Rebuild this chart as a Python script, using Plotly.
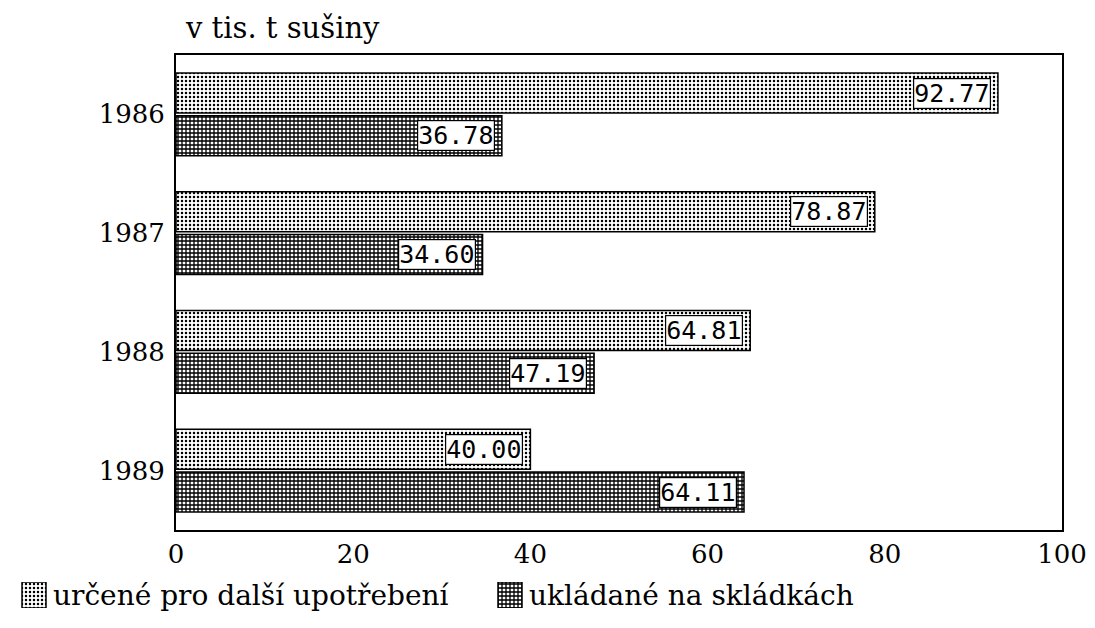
import plotly.graph_objects as go

# Údaje: kaly (v tis. t sušiny)
years = ["1986", "1987", "1988", "1989"]
reused = [92.77, 78.87, 64.81, 40.00]       # určené pro další upotřebení
landfilled = [36.78, 34.60, 47.19, 64.11]   # ukládané na skládkách
series_names = ["určené pro další upotřebení", "ukládané na skládkách"]
x_ticks = [0, 20, 40, 60, 80, 100]

W, H = 1095, 628
SERIF = "DejaVu Serif"
MONO = "DejaVu Sans Mono"

LIGHT = dict(shape=".", fgcolor="black", bgcolor="white",
             size=4, solidity=0.3, fillmode="replace")
DARK = dict(shape="+", fgcolor="black", bgcolor="white",
            size=4, solidity=0.55, fillmode="replace")
OUTLINE = dict(color="black", width=1.5)

# plot box in pixels
left, right, top, bottom = 176, 1062, 55, 530


def px_x(v):
    return v / W


def px_y(v):
    return 1 - v / H


fig = go.Figure()

fig.add_trace(go.Bar(
    y=years, x=reused, name=series_names[0], orientation="h",
    marker=dict(color="white", line=OUTLINE, pattern=LIGHT),
    xaxis="x", yaxis="y", showlegend=False,
))
fig.add_trace(go.Bar(
    y=years, x=landfilled, name=series_names[1], orientation="h",
    marker=dict(color="white", line=OUTLINE, pattern=DARK),
    xaxis="x", yaxis="y", showlegend=False,
))

# legend keys drawn as small patterned bars on a pixel-scaled helper axis
key_x = [34, 510]
fig.add_trace(go.Bar(
    x=[key_x[0]], y=[1], width=[24], xaxis="x2", yaxis="y2",
    marker=dict(color="white", line=OUTLINE, pattern=LIGHT),
    showlegend=False, hoverinfo="skip",
))
fig.add_trace(go.Bar(
    x=[key_x[1]], y=[1], width=[24], xaxis="x2", yaxis="y2",
    marker=dict(color="white", line=OUTLINE, pattern=DARK),
    showlegend=False, hoverinfo="skip",
))

annotations = []
# boxed value labels at the end of each bar
for i, yr in enumerate(years):
    for j, vals in enumerate([reused, landfilled]):
        off = -0.18 if j == 0 else 0.18
        annotations.append(dict(
            x=vals[i], y=i + off, xref="x", yref="y",
            text=f"{vals[i]:.2f}", showarrow=False,
            xanchor="right", xshift=-7,
            font=dict(family=MONO, size=25, color="black"),
            bgcolor="white", bordercolor="black", borderwidth=1.2, borderpad=0,
        ))

# unit label above the plot
annotations.append(dict(
    x=px_x(183), y=px_y(28), xref="paper", yref="paper",
    text="v tis. t sušiny", showarrow=False,
    xanchor="left", yanchor="middle",
    font=dict(family=SERIF, size=29, color="black"),
))

# legend texts
for kx, label in zip(key_x, series_names):
    annotations.append(dict(
        x=px_x(kx + 17), y=px_y(595), xref="paper", yref="paper",
        text=label, showarrow=False, xanchor="left", yanchor="middle",
        font=dict(family=SERIF, size=28, color="black"),
    ))

fig.update_layout(
    width=W, height=H,
    margin=dict(l=0, r=0, t=0, b=0, pad=0, autoexpand=False),
    paper_bgcolor="white", plot_bgcolor="white",
    barmode="group", bargap=0.28, bargroupgap=0.06,
    showlegend=False,
    xaxis=dict(
        domain=[px_x(left), px_x(right)],
        range=[0, 100], tickvals=x_ticks, ticktext=[str(t) for t in x_ticks],
        showgrid=False, zeroline=False, ticks="",
        showline=True, linecolor="black", linewidth=2, mirror=True,
        tickfont=dict(family=SERIF, size=26, color="black"),
        anchor="y", automargin=False,
    ),
    yaxis=dict(
        domain=[px_y(bottom), px_y(top)],
        categoryorder="array", categoryarray=years, autorange="reversed",
        showgrid=False, zeroline=False, ticks="",
        showline=True, linecolor="black", linewidth=2, mirror=True,
        tickfont=dict(family=SERIF, size=26, color="black"),
        ticklabelstandoff=4, anchor="x", automargin=False,
    ),
    xaxis2=dict(
        domain=[0, 1], range=[0, W], visible=False, anchor="y2",
        fixedrange=True, automargin=False,
    ),
    yaxis2=dict(
        domain=[px_y(608), px_y(582)], range=[0, 1], visible=False,
        anchor="x2", fixedrange=True, automargin=False,
    ),
    annotations=annotations,
)

fig.write_html("out.html")
